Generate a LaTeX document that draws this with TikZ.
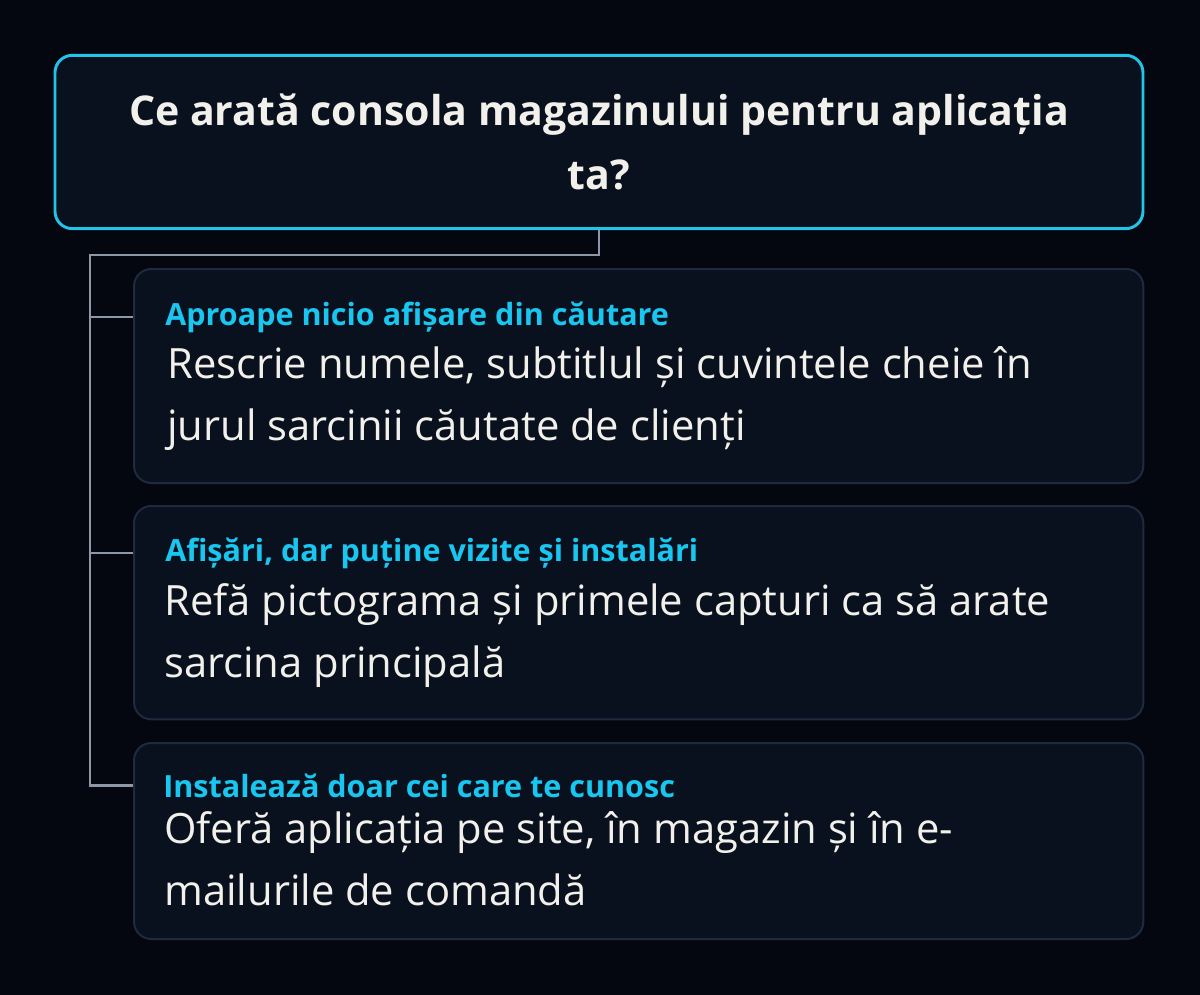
\documentclass[tikz,border=0pt]{standalone}
\usepackage{fontspec}
\setmainfont{Open Sans}
\usepackage{xcolor}
\usetikzlibrary{positioning}

\definecolor{bgnavy}{HTML}{04070F}
\definecolor{boxfill}{HTML}{0A111E}
\definecolor{boxline}{HTML}{1F2A3F}
\definecolor{qcyan}{HTML}{22C5E8}
\definecolor{headcyan}{HTML}{19C6F0}
\definecolor{txtwhite}{HTML}{F2F0EA}
\definecolor{wiregrey}{HTML}{8E97A8}

\tikzset{
  qbox/.style={draw=qcyan, line width=2.2pt, fill=boxfill, rounded corners=13pt,
    minimum width=816pt, minimum height=130pt, align=center, text=txtwhite,
    font=\fontsize{30.8}{48}\selectfont\bfseries},
  optbox/.style={draw=boxline, line width=1.5pt, fill=boxfill, rounded corners=13pt,
    minimum width=757pt, anchor=north west},
  head/.style={anchor=base west, inner sep=0pt, text=headcyan,
    font=\fontsize{22.9}{28}\selectfont\bfseries},
  body/.style={anchor=base west, inner sep=0pt, text=txtwhite, align=left,
    font=\fontsize{31.3}{46.5}\selectfont},
  wire/.style={draw=wiregrey, line width=1.8pt}
}

\begin{document}
\begin{tikzpicture}[x=0.75pt, y=-0.75pt]
        %background
        \fill[bgnavy] (0,0) rectangle (1200,995);
        \useasboundingbox (0,0) rectangle (1200,995);
        %question
        \node[qbox] (question) at (599,142) {Ce arată consola magazinului pentru aplicația\\ta?};
        %options
        \node[optbox, minimum height=160.5pt] (opt1) at (133,268) {};
        \node[optbox, minimum height=160pt] (opt2) at (133,505) {};
        \node[optbox, minimum height=147pt] (opt3) at (133,742) {};
        %headings
        \node[head] (head1) at (165,325) {Aproape nicio afișare din căutare};
        \node[head] (head2) at (165,561) {Afișări, dar puține vizite și instalări};
        \node[head] (head3) at (163,797) {Instalează doar cei care te cunosc};
        %texts (base = last line)
        \node[body] (text1) at (167,440) {Rescrie numele, subtitlul și cuvintele cheie în\\jurul sarcinii căutate de clienți};
        \node[body] (text2) at (164,677) {Refă pictograma și primele capturi ca să arate\\sarcina principală};
        \node[body] (text3) at (164,905) {Oferă aplicația pe site, în magazin și în e-\\mailurile de comandă};
        %connectors
        \coordinate (spine) at (90,255);
        \draw[wire] (question.south) |- (spine) -- (spine |- head3) -- (opt3.west |- head3);
        \draw[wire] (spine |- head1) -- (opt1.west |- head1);
        \draw[wire] (spine |- head2) -- (opt2.west |- head2);
\end{tikzpicture}
\end{document}
